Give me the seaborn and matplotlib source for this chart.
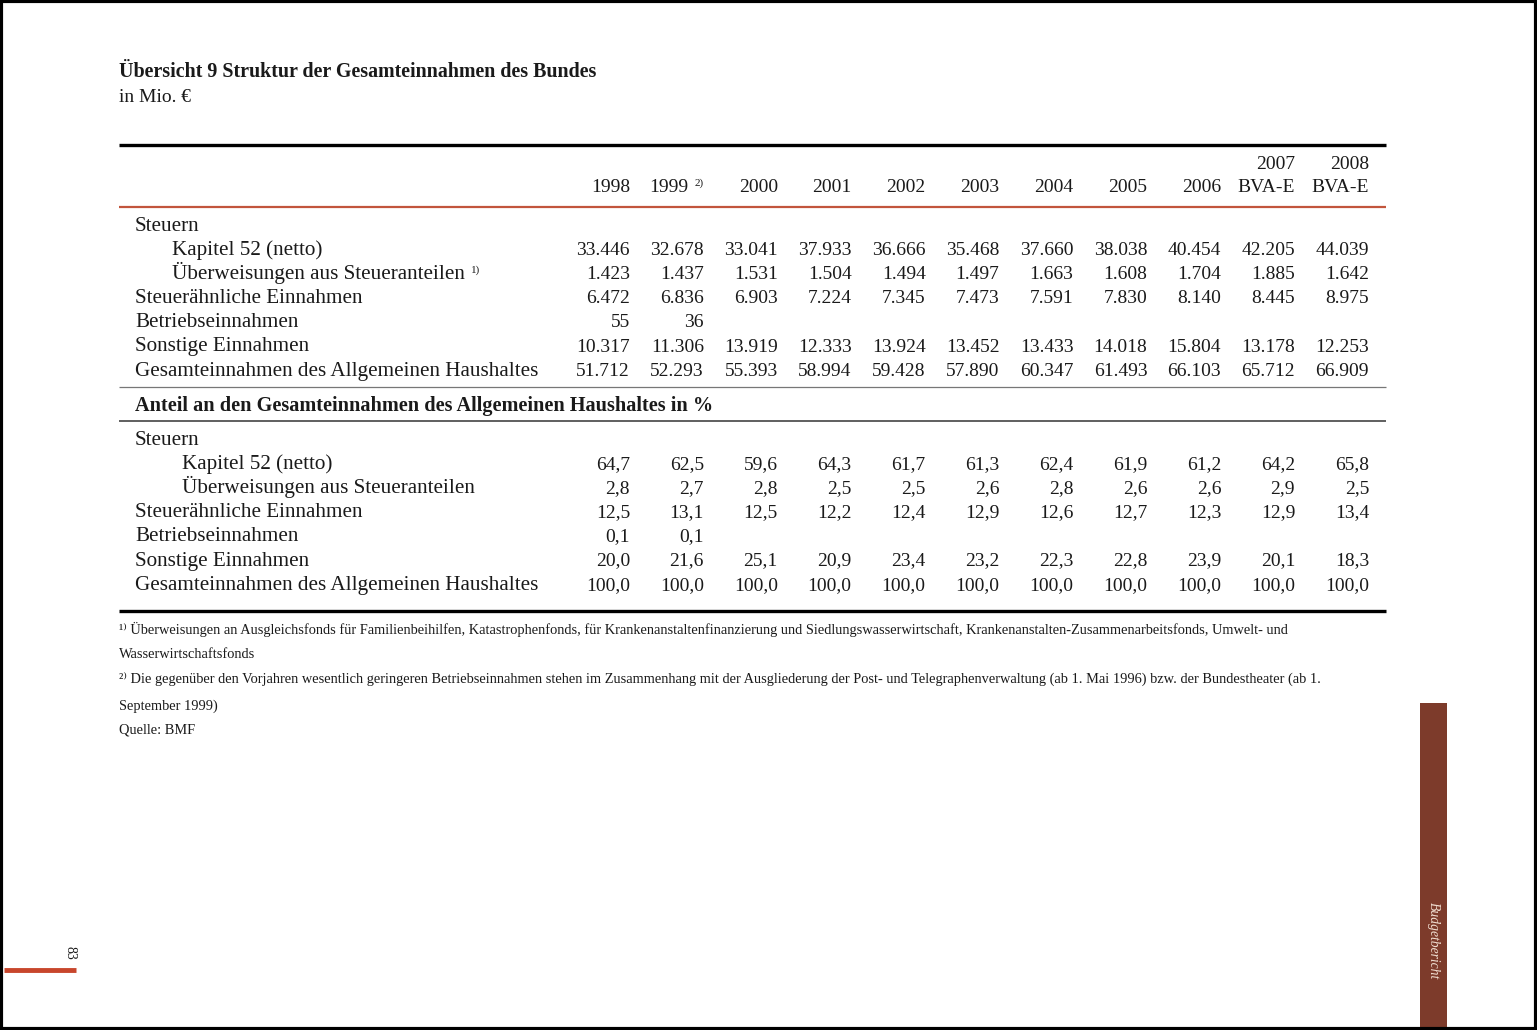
import matplotlib
matplotlib.use("Agg")
import matplotlib.pyplot as plt
import seaborn as sns

# data (Mio. EUR)
years = ["1998", "1999", "2000", "2001", "2002", "2003", "2004", "2005", "2006", "2007", "2008"]
year_sub = ["", "", "", "", "", "", "", "", "", "BVA-E", "BVA-E"]

kapitel52 = [33446, 32678, 33041, 37933, 36666, 35468, 37660, 38038, 40454, 42205, 44039]
ueberweisungen = [1423, 1437, 1531, 1504, 1494, 1497, 1663, 1608, 1704, 1885, 1642]
steueraehnlich = [6472, 6836, 6903, 7224, 7345, 7473, 7591, 7830, 8140, 8445, 8975]
betrieb = [55, 36, None, None, None, None, None, None, None, None, None]
sonstige = [10317, 11306, 13919, 12333, 13924, 13452, 13433, 14018, 15804, 13178, 12253]
gesamt = [51712, 52293, 55393, 58994, 59428, 57890, 60347, 61493, 66103, 65712, 66909]

# shares in %
kapitel52_pct = [64.7, 62.5, 59.6, 64.3, 61.7, 61.3, 62.4, 61.9, 61.2, 64.2, 65.8]
ueberweisungen_pct = [2.8, 2.7, 2.8, 2.5, 2.5, 2.6, 2.8, 2.6, 2.6, 2.9, 2.5]
steueraehnlich_pct = [12.5, 13.1, 12.5, 12.2, 12.4, 12.9, 12.6, 12.7, 12.3, 12.9, 13.4]
betrieb_pct = [0.1, 0.1, None, None, None, None, None, None, None, None, None]
sonstige_pct = [20.0, 21.6, 25.1, 20.9, 23.4, 23.2, 22.3, 22.8, 23.9, 20.1, 18.3]
gesamt_pct = [100.0, 100.0, 100.0, 100.0, 100.0, 100.0, 100.0, 100.0, 100.0, 100.0, 100.0]

sns.set_theme(style="white")
plt.rcParams['font.family'] = ['Liberation Serif', 'DejaVu Serif']

W, H = 1537, 1030
fig = plt.figure(figsize=(W / 100, H / 100), dpi=100)
ax = fig.add_axes([0, 0, 1, 1])
ax.set_xlim(0, W)
ax.set_ylim(H, 0)
ax.axis('off')
fig.patch.set_facecolor('white')

fs = 14        # numbers
fs_lab = 15.2  # row labels
fs_small = 10.4
red = '#c2553c'
dark = '#1a1a1a'
bl = 6  # centre -> baseline offset


def fmt_int(v):
    if v is None:
        return ""
    return f"{v:,}".replace(",", ".")


def fmt_pct(v):
    if v is None:
        return ""
    return f"{v:.1f}".replace(".", ",")


col_x0 = 630
col_dx = 73.9
cols = [col_x0 + i * col_dx for i in range(len(years))]

# title
ax.text(119, 72, "Übersicht 9 Struktur der Gesamteinnahmen des Bundes", fontsize=14.4,
        fontweight='bold', va='center', ha='left', color=dark)
ax.text(119, 97, "in Mio. €", fontsize=14, va='center', ha='left', color=dark)

# rules
x_l, x_r = 119, 1386
ax.plot([x_l, x_r], [145, 145], color='black', lw=2.4, solid_capstyle='butt')
ax.plot([x_l, x_r], [207, 207], color=red, lw=1.6, solid_capstyle='butt')
ax.plot([x_l, x_r], [387, 387], color='#777777', lw=0.9, solid_capstyle='butt')
ax.plot([x_l, x_r], [421, 421], color='#444444', lw=1.2, solid_capstyle='butt')
ax.plot([x_l, x_r], [611, 611], color='black', lw=2.4, solid_capstyle='butt')

# header
for x, y, sub in zip(cols, years, year_sub):
    if sub:
        ax.text(x, 163 + bl, y, fontsize=fs, ha='right', va='baseline', color=dark)
        ax.text(x, 186 + bl, sub, fontsize=fs, ha='right', va='baseline', color=dark)
    elif y == "1999":
        ax.text(x - 16, 186 + bl, y, fontsize=fs, ha='right', va='baseline', color=dark)
        ax.text(x, 183, "2)", fontsize=8, ha='right', va='center', color=dark)
    else:
        ax.text(x, 186 + bl, y, fontsize=fs, ha='right', va='baseline', color=dark)

# block 1
rows1 = [
    ("Steuern", 135, None),
    ("Kapitel 52 (netto)", 172, kapitel52),
    ("Überweisungen aus Steueranteilen", 172, ueberweisungen),
    ("Steuerähnliche Einnahmen", 135, steueraehnlich),
    ("Betriebseinnahmen", 135, betrieb),
    ("Sonstige Einnahmen", 135, sonstige),
    ("Gesamteinnahmen des Allgemeinen Haushaltes", 135, gesamt),
]
y = 225
for label, lx, vals in rows1:
    t = ax.text(lx, y + bl, label, fontsize=fs_lab, ha='left', va='baseline', color=dark)
    if label.startswith("Überweisungen"):
        fig.canvas.draw()
        bb = t.get_window_extent()
        ax.text(bb.x1 + 6, y - 3, "1)", fontsize=8, ha='left', va='center', color=dark)
    if vals is not None:
        for x, v in zip(cols, vals):
            ax.text(x, y + bl, fmt_int(v), fontsize=fs, ha='right', va='baseline', color=dark)
    y += 24.1

ax.text(135, 405 + bl, "Anteil an den Gesamteinnahmen des Allgemeinen Haushaltes in %", fontsize=14.6,
        fontweight='bold', ha='left', va='baseline', color=dark)

# block 2
rows2 = [
    ("Steuern", 135, None),
    ("Kapitel 52 (netto)", 182, kapitel52_pct),
    ("Überweisungen aus Steueranteilen", 182, ueberweisungen_pct),
    ("Steuerähnliche Einnahmen", 135, steueraehnlich_pct),
    ("Betriebseinnahmen", 135, betrieb_pct),
    ("Sonstige Einnahmen", 135, sonstige_pct),
    ("Gesamteinnahmen des Allgemeinen Haushaltes", 135, gesamt_pct),
]
y = 439
for label, lx, vals in rows2:
    ax.text(lx, y + bl, label, fontsize=fs_lab, ha='left', va='baseline', color=dark)
    if vals is not None:
        for x, v in zip(cols, vals):
            ax.text(x, y + bl, fmt_pct(v), fontsize=fs, ha='right', va='baseline', color=dark)
    y += 24.1

# footnotes
notes = [
    (629, "¹⁾ Überweisungen an Ausgleichsfonds für Familienbeihilfen, Katastrophenfonds, für Krankenanstaltenfinanzierung und Siedlungswasserwirtschaft, Krankenanstalten-Zusammenarbeitsfonds, Umwelt- und"),
    (654, "Wasserwirtschaftsfonds"),
    (680, "²⁾ Die gegenüber den Vorjahren wesentlich geringeren Betriebseinnahmen stehen im Zusammenhang mit der Ausgliederung der Post- und Telegraphenverwaltung (ab 1. Mai 1996) bzw. der Bundestheater (ab 1."),
    (706, "September 1999)"),
    (730, "Quelle: BMF"),
]
for ny, txt in notes:
    ax.text(119, ny, txt, fontsize=fs_small, ha='left', va='center', color=dark)

# page decorations
ax.add_patch(plt.Rectangle((1420, 703), 27, H - 703, color='#7d3b2b', lw=0))
ax.text(1433, 941, "Budgetbericht", fontsize=9.8, fontstyle='italic', rotation=-90,
        ha='center', va='center', color='#f0ddd0')
ax.text(70, 953, "83", fontsize=10, rotation=-90, ha='center', va='center', color=dark)
ax.plot([4, 76], [970, 970], color='#c8462c', lw=3.5, solid_capstyle='butt')
ax.add_patch(plt.Rectangle((1, 1), W - 2, H - 2, fill=False, ec='black', lw=3))

fig.savefig("out.png", dpi=100, facecolor='white')
